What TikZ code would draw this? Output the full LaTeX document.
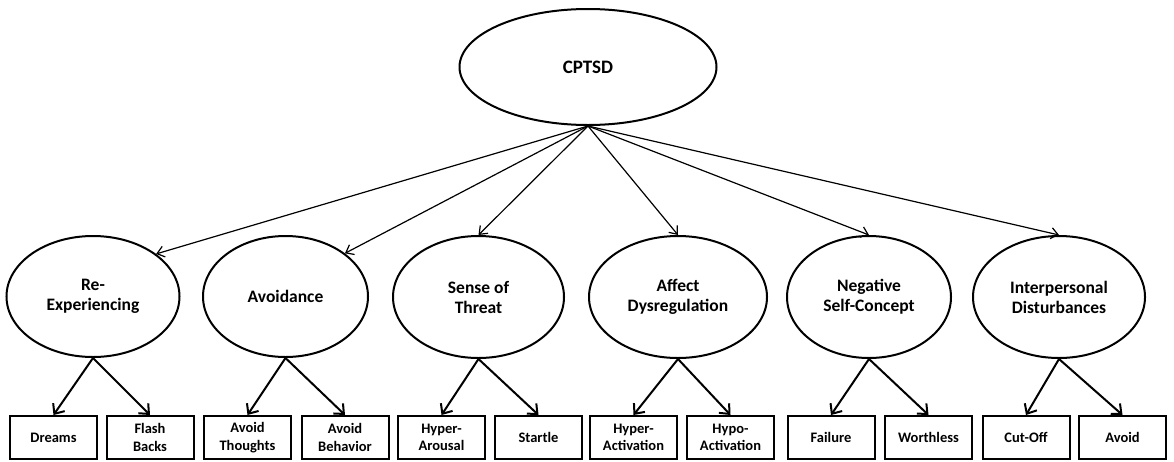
\documentclass[tikz,border=0pt]{standalone}
\usepackage{fontspec}
\setmainfont{Carlito}
\usetikzlibrary{shapes.geometric,arrows.meta}
\begin{document}
\begin{tikzpicture}[x=1pt,y=-1pt,
 lat/.style={ellipse,draw,line width=2pt,inner sep=0pt,align=center,font=\bfseries\fontsize{17.5}{20}\selectfont},
 ind/.style={rectangle,draw,line width=2pt,minimum width=87pt,minimum height=43pt,inner sep=0pt,align=center,font=\bfseries\fontsize{14.5}{17.5}\selectfont},
 toparr/.style={-{Straight Barb[length=7pt,width=11pt]},line width=1.2pt},
 botarr/.style={-{Straight Barb[length=8pt,width=14pt]},line width=2pt}]
\useasboundingbox (0,0) rectangle (1174,461);
\node[lat,minimum width=257pt,minimum height=116pt,font=\bfseries\fontsize{19}{22}\selectfont] (cptsd) at (588,67) {CPTSD};
\node[lat,minimum width=173pt,minimum height=121pt] (re) at (93,296.5) {Re-\\Experiencing};
\node[lat,minimum width=165pt,minimum height=121pt] (av) at (285.5,296.5) {Avoidance};
\node[lat,minimum width=171pt,minimum height=122pt] (st) at (478.5,297) {Sense of\\Threat};
\node[lat,minimum width=178pt,minimum height=122pt] (ad) at (678,297) {Affect\\Dysregulation};
\node[lat,minimum width=164pt,minimum height=122pt] (ns) at (869,297) {Negative\\Self-Concept};
\node[lat,minimum width=172pt,minimum height=122pt] (ip) at (1059,297) {Interpersonal\\Disturbances};
\node[ind] (b1) at (53.5,437.5) {Dreams};
\node[ind] (b2) at (150,437.5) {Flash\\Backs};
\node[ind] (b3) at (247.5,437.5) {Avoid\\Thoughts};
\node[ind] (b4) at (345,437.5) {Avoid\\Behavior};
\node[ind] (b5) at (441.5,437.5) {Hyper-\\Arousal};
\node[ind] (b6) at (538.5,437.5) {Startle};
\node[ind] (b7) at (633.5,437.5) {Hyper-\\Activation};
\node[ind] (b8) at (730.5,437.5) {Hypo-\\Activation};
\node[ind] (b9) at (831,437.5) {Failure};
\node[ind] (b10) at (928.5,437.5) {Worthless};
\node[ind] (b11) at (1026,437.5) {Cut-Off};
\node[ind] (b12) at (1122.5,437.5) {Avoid};
\draw[toparr] (cptsd.south) -- (re.34);
\draw[toparr] (cptsd.south) -- (av.36);
\draw[toparr] (cptsd.south) -- (st.north);
\draw[toparr] (cptsd.south) -- (ad.north);
\draw[toparr] (cptsd.south) -- (ns.north);
\draw[toparr] (cptsd.south) -- (ip.north);
\draw[botarr] (re.south) -- (b1.north);
\draw[botarr] (re.south) -- (b2.north);
\draw[botarr] (av.south) -- (b3.north);
\draw[botarr] (av.south) -- (b4.north);
\draw[botarr] (st.south) -- (b5.north);
\draw[botarr] (st.south) -- (b6.north);
\draw[botarr] (ad.south) -- (b7.north);
\draw[botarr] (ad.south) -- (b8.north);
\draw[botarr] (ns.south) -- (b9.north);
\draw[botarr] (ns.south) -- (b10.north);
\draw[botarr] (ip.south) -- (b11.north);
\draw[botarr] (ip.south) -- (b12.north);
\end{tikzpicture}
\end{document}
